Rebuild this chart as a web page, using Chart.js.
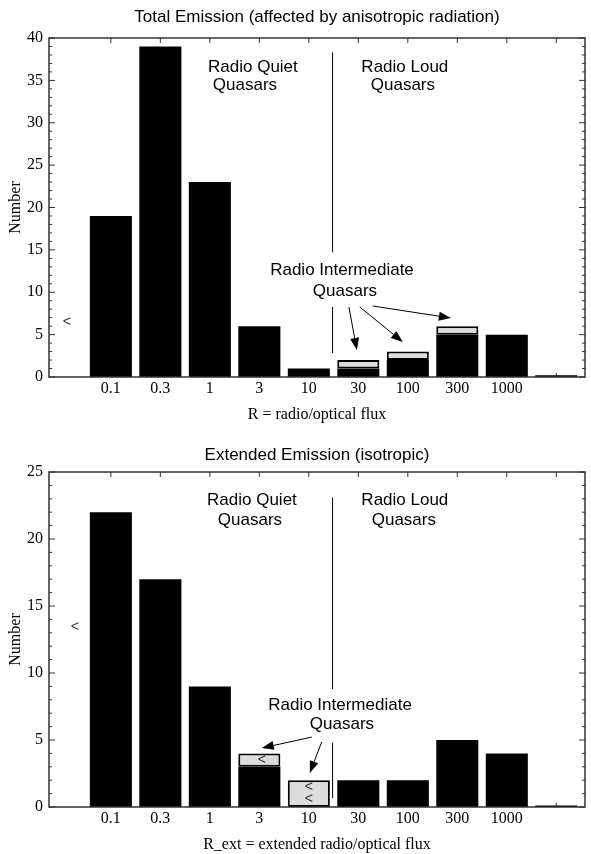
<!DOCTYPE html>
<html>
<head>
<meta charset="utf-8">
<script src="https://cdn.jsdelivr.net/npm/chart.js@4"></script>
<style>
body { margin: 0; background: #fff; }
canvas { position: absolute; left: 0; }
#totalChart { top: 0; }
#extChart { top: 427px; }
</style>
</head>
<body>
<canvas id="totalChart" width="591" height="427"></canvas>
<canvas id="extChart" width="591" height="427"></canvas>
<script>
// R bins; slot 0 (left of 0.1) holds only the "<" mark
const binLabels = ["0.1", "0.3", "1", "3", "10", "30", "100", "300", "1000", ""];
const binSlots = [1, 2, 3, 4, 5, 6, 7, 8, 9, 10];

// total emission: solid = black part, inter = grey (radio intermediate) part
const totalSolid = [19, 39, 23, 6, 1, 1, 2, 5, 5, 0.2];
const totalInter = [0, 0, 0, 0, 0, 1, 1, 1, 0, 0];

// extended emission
const extSolid = [22, 17, 9, 3, 0, 2, 2, 5, 4, 0.12];
const extInter = [0, 0, 0, 1, 2, 0, 0, 0, 0, 0];

const totalMax = 40;
const extMax = 25;

const sans = "'Liberation Sans', Arial, sans-serif";
const serif = "'Liberation Serif', 'Times New Roman', serif";

// annotations, in data units (slot, count)
const totalNotes = {
    texts: [
        ["Radio Quiet", 3.87, 36.6], ["Quasars", 3.71, 34.4],
        ["Radio Loud", 6.94, 36.6], ["Quasars", 6.90, 34.4],
        ["Radio Intermediate", 5.67, 12.6], ["Quasars", 5.73, 10.1]
    ],
    marks: [[0.11, 6.5]],
    lines: [[5.48, 38.3, 5.48, 14.7], [5.48, 8.26, 5.48, 2.83]],
    arrows: [[5.81, 8.26, 5.97, 3.19], [6.03, 8.26, 6.90, 4.13], [6.29, 8.38, 7.87, 6.96]]
};
const extNotes = {
    texts: [
        ["Radio Quiet", 3.85, 22.9], ["Quasars", 3.81, 21.4],
        ["Radio Loud", 6.94, 22.9], ["Quasars", 6.92, 21.4],
        ["Radio Intermediate", 5.63, 7.6], ["Quasars", 5.67, 6.2]
    ],
    marks: [[0.27, 13.4], [4.05, 3.5], [5.0, 1.45], [5.0, 0.55]],
    lines: [[5.48, 23.1, 5.48, 8.8], [5.48, 4.8, 5.48, 0.67]],
    arrows: [[5.06, 5.22, 4.05, 4.40], [5.26, 4.85, 5.02, 2.54]]
};

function notesPlugin(notes) {
    return {
        id: "notes",
        beforeDatasetsDraw(chart) {
            const {ctx, chartArea: a, scales: {x}} = chart;
            ctx.save();
            ctx.strokeStyle = "#333";
            ctx.lineWidth = 1;
            ctx.beginPath();
            binSlots.forEach(s => {
                const px = x.getPixelForValue(s);
                ctx.moveTo(px, a.bottom);
                ctx.lineTo(px, a.bottom - 4);
            });
            ctx.stroke();
            ctx.restore();
        },
        afterDatasetsDraw(chart) {
            const {ctx, chartArea: a, scales: {x, y}} = chart;
            ctx.save();
            // frame + inward ticks
            ctx.strokeStyle = "#333";
            ctx.lineWidth = 1.5;
            ctx.strokeRect(a.left, a.top, a.right - a.left, a.bottom - a.top);
            ctx.lineWidth = 1;
            ctx.beginPath();
            for (let v = y.min; v <= y.max; v++) {
                const py = y.getPixelForValue(v);
                const len = v % 5 === 0 ? 6 : 3;
                ctx.moveTo(a.left, py); ctx.lineTo(a.left + len, py);
                ctx.moveTo(a.right, py); ctx.lineTo(a.right - len, py);
            }
            binSlots.forEach(s => {
                const px = x.getPixelForValue(s);
                ctx.moveTo(px, a.top); ctx.lineTo(px, a.top + 5);
            });
            ctx.stroke();

            ctx.strokeStyle = "#000";
            ctx.fillStyle = "#000";
            ctx.beginPath();
            notes.lines.forEach(l => {
                ctx.moveTo(x.getPixelForValue(l[0]), y.getPixelForValue(l[1]));
                ctx.lineTo(x.getPixelForValue(l[2]), y.getPixelForValue(l[3]));
            });
            ctx.stroke();

            notes.arrows.forEach(l => {
                const x0 = x.getPixelForValue(l[0]), y0 = y.getPixelForValue(l[1]);
                const x1 = x.getPixelForValue(l[2]), y1 = y.getPixelForValue(l[3]);
                const ang = Math.atan2(y1 - y0, x1 - x0);
                const hl = 12, hw = 4.5;
                const bx = x1 - hl * Math.cos(ang), by = y1 - hl * Math.sin(ang);
                ctx.beginPath();
                ctx.moveTo(x0, y0);
                ctx.lineTo(bx, by);
                ctx.stroke();
                ctx.beginPath();
                ctx.moveTo(x1, y1);
                ctx.lineTo(bx + hw * Math.sin(ang), by - hw * Math.cos(ang));
                ctx.lineTo(bx - hw * Math.sin(ang), by + hw * Math.cos(ang));
                ctx.closePath();
                ctx.fill();
            });

            ctx.textAlign = "center";
            ctx.textBaseline = "middle";
            ctx.font = "17px " + sans;
            notes.texts.forEach(t => {
                ctx.fillText(t[0], x.getPixelForValue(t[1]), y.getPixelForValue(t[2]));
            });
            ctx.font = "14px " + sans;
            ctx.fillStyle = "#333";
            notes.marks.forEach(m => {
                ctx.fillText("<", x.getPixelForValue(m[0]), y.getPixelForValue(m[1]));
            });
            ctx.restore();
        }
    };
}

function makeChart(id, cfg) {
    return new Chart(document.getElementById(id), {
        type: "bar",
        data: {
            datasets: [
                {
                    data: binSlots.map((s, i) => ({x: s, y: cfg.solid[i] || null})),
                    backgroundColor: "#000",
                    borderWidth: 0
                },
                {
                    data: binSlots.map((s, i) => ({x: s, y: cfg.inter[i] || null})),
                    backgroundColor: "#dcdcdc",
                    borderColor: "#000",
                    borderWidth: 2,
                    borderSkipped: false
                }
            ]
        },
        options: {
            responsive: false,
            animation: false,
            barPercentage: 0.85,
            categoryPercentage: 1,
            layout: {padding: {left: 0, right: 6, top: 0, bottom: cfg.padBottom}},
            plugins: {
                legend: {display: false},
                tooltip: {enabled: false},
                title: {
                    display: true,
                    text: cfg.title,
                    fullSize: false,
                    color: "#000",
                    font: {family: sans, size: 17, weight: "normal"},
                    padding: cfg.titlePad
                }
            },
            scales: {
                x: {
                    type: "linear",
                    min: -0.25,
                    max: 10.58,
                    offset: false,
                    stacked: true,
                    grid: {display: false, drawTicks: false},
                    border: {display: false},
                    afterBuildTicks: s => { s.ticks = binSlots.map(v => ({value: v})); },
                    afterFit: s => { s.height = 47; },
                    ticks: {
                        autoSkip: false,
                        maxRotation: 0,
                        padding: 2,
                        color: "#000",
                        font: {family: serif, size: 16},
                        callback: v => binLabels[binSlots.indexOf(v)] ?? ""
                    },
                    title: {
                        display: true,
                        text: cfg.xTitle,
                        color: "#000",
                        font: {family: serif, size: 16, lineHeight: 1.1},
                        padding: 0
                    }
                },
                y: {
                    min: 0,
                    max: cfg.yMax,
                    stacked: true,
                    grid: {display: false, drawTicks: false},
                    border: {display: false},
                    afterFit: s => { s.width = 49; },
                    ticks: {stepSize: 5, padding: 6, color: "#000", font: {family: serif, size: 16}},
                    title: {
                        display: true,
                        text: "Number",
                        color: "#000",
                        font: {family: serif, size: 16},
                        padding: {top: 6.4, bottom: 0}
                    }
                }
            }
        },
        plugins: [notesPlugin(cfg.notes)]
    });
}

makeChart("totalChart", {
    title: "Total Emission (affected by anisotropic radiation)",
    xTitle: "R = radio/optical flux",
    solid: totalSolid,
    inter: totalInter,
    yMax: totalMax,
    notes: totalNotes,
    titlePad: {top: 6.8, bottom: 10.8},
    padBottom: 3
});

makeChart("extChart", {
    title: "Extended Emission (isotropic)",
    xTitle: "R_ext = extended radio/optical flux",
    solid: extSolid,
    inter: extInter,
    yMax: extMax,
    notes: extNotes,
    titlePad: {top: 17.8, bottom: 6.8},
    padBottom: 0
});
</script>
</body>
</html>
